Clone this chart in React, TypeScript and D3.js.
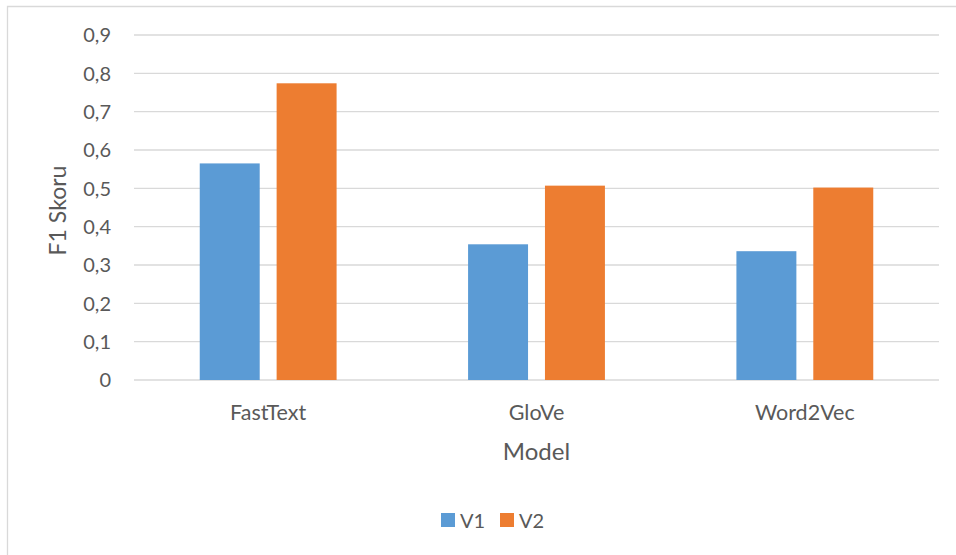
import React from "react";
import * as d3 from "d3";

const categories = ["FastText", "GloVe", "Word2Vec"];
const seriesNames = ["V1", "V2"];
const v1Values = [0.565, 0.354, 0.336];
const v2Values = [0.774, 0.507, 0.502];
const yTicks = [0, 0.1, 0.2, 0.3, 0.4, 0.5, 0.6, 0.7, 0.8, 0.9];
const colors = ["#5B9BD5", "#ED7D31"];

const W = 956;
const H = 555;
const plot = { left: 134, right: 939, top: 35, bottom: 380 };
const font = "Lato, 'Open Sans', sans-serif";
const textColor = "#595959";

export default function App() {
  const x = d3
    .scaleBand<string>()
    .domain(categories)
    .range([plot.left, plot.right])
    .paddingInner(0.49)
    .paddingOuter(0.245);
  const xs = d3
    .scaleBand<string>()
    .domain(seriesNames)
    .range([0, x.bandwidth()])
    .paddingInner(0.22)
    .paddingOuter(0);
  const y = d3.scaleLinear().domain([0, 0.9]).range([plot.bottom, plot.top]);
  const fmt = (v: number) => (v === 0 ? "0" : d3.format(".1f")(v).replace(".", ","));
  const series = [v1Values, v2Values];

  return (
    <svg
      width={W}
      height={H}
      style={{ position: "absolute", left: 0, top: 0, background: "#fff" }}
      fontFamily={font}
    >
      <rect x={0} y={0} width={W} height={H} fill="#fff" />
      {/* chart area border */}
      <path d={`M7.5,${H} V6.5 H${W}`} fill="none" stroke="#d9d9d9" strokeWidth={1.3} />

      {yTicks.map((t) => (
        <g key={t}>
          <line
            x1={plot.left}
            x2={plot.right}
            y1={y(t)}
            y2={y(t)}
            stroke="#d9d9d9"
            strokeWidth={1.3}
          />
          <text
            x={111}
            y={y(t)}
            dy="0.36em"
            textAnchor="end"
            fontSize={20}
            fill={textColor}
          >
            {fmt(t)}
          </text>
        </g>
      ))}

      {categories.map((c, i) => (
        <g key={c} transform={`translate(${x(c)},0)`}>
          {seriesNames.map((s, j) => (
            <rect
              key={s}
              x={xs(s)}
              y={y(series[j][i])}
              width={xs.bandwidth()}
              height={y(0) - y(series[j][i])}
              fill={colors[j]}
            />
          ))}
          <text
            x={x.bandwidth() / 2}
            y={419.5}
            textAnchor="middle"
            fontSize={21.5}
            fill={textColor}
          >
            {c}
          </text>
        </g>
      ))}

      <text
        x={(plot.left + plot.right) / 2}
        y={460}
        textAnchor="middle"
        fontSize={24}
        fill={textColor}
      >
        Model
      </text>
      <text
        transform={`translate(66,${(plot.top + plot.bottom) / 2 + 3}) rotate(-90)`}
        textAnchor="middle"
        fontSize={23}
        fill={textColor}
      >
        F1 Skoru
      </text>

      {/* legend */}
      {seriesNames.map((s, j) => (
        <g key={s} transform={`translate(${441 + j * 59},513)`}>
          <rect x={0} y={0} width={14} height={14} fill={colors[j]} />
          <text x={19} y={14.5} fontSize={20} fill={textColor}>
            {s}
          </text>
        </g>
      ))}
    </svg>
  );
}
